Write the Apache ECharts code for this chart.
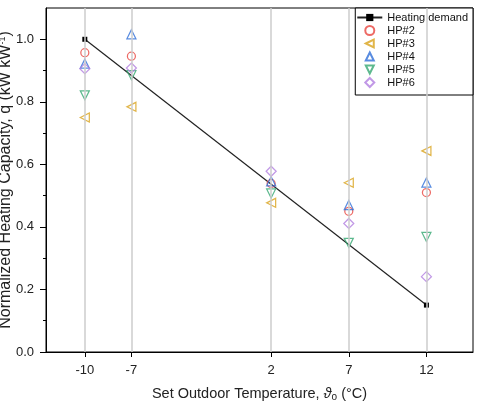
<!DOCTYPE html>
<html>
<head>
<meta charset="utf-8">
<script src="https://cdn.jsdelivr.net/npm/echarts@6/dist/echarts.min.js"></script>
<style>html,body{margin:0;padding:0;background:#fff}#c{width:479px;height:406px}</style>
</head>
<body>
<div id="c"></div>
<script>
const temps = [-10, -7, 2, 7, 12];
const demandX = [-10, 12];
const demandY = [1.0, 0.15];
const hp2 = [0.957, 0.946, 0.539, 0.450, 0.510];
const hp3 = [0.750, 0.784, 0.477, 0.541, 0.643];
const hp4 = [0.922, 1.016, 0.546, 0.470, 0.542];
const hp5 = [0.821, 0.885, 0.507, 0.349, 0.368];
const hp6 = [0.906, 0.908, 0.578, 0.411, 0.241];
const yLabels = [0, 0.2, 0.4, 0.6, 0.8, 1.0];
const yMinor = [0.1, 0.3, 0.5, 0.7, 0.9];

const font = '"Liberation Sans", Arial, sans-serif';
const pts = arr => temps.map((t, i) => [t, arr[i]]);
function hpSeries(name, data, symbol, rotate, size, color) {
  return {
    name, type: 'scatter', data: pts(data), symbol, symbolRotate: rotate, symbolSize: size,
    symbolKeepAspect: true,
    itemStyle: { color: 'rgba(255,255,255,0)', borderColor: color, borderWidth: 1.25 },
    z: 3
  };
}
// legend icons drawn in a 25x9 box so they keep their proportions
const pad = 'M0,0 M25,9 ';
const legendIcons = {
  'HP#3': 'path://' + pad + 'M8.5,4.5 L16.5,0.5 L16.5,8.5 Z',
  'HP#4': 'path://' + pad + 'M12.5,0.5 L16.5,8.5 L8.5,8.5 Z',
  'HP#5': 'path://' + pad + 'M8.5,0.5 L16.5,0.5 L12.5,8.5 Z',
  'HP#6': 'path://' + pad + 'M12.5,0 L17,4.5 L12.5,9 L8,4.5 Z'
};
const legendNames = ['Heating demand', 'HP#2', 'HP#3', 'HP#4', 'HP#5', 'HP#6'];

const chart = echarts.init(document.getElementById('c'));
chart.setOption({
  animation: false,
  grid: { left: 46, right: 6, top: 8, bottom: 54, show: true, borderColor: '#000', borderWidth: 1,
    containLabel: false, outerBoundsMode: 'none' },
  xAxis: {
    type: 'value', min: -12.5, max: 15,
    name: '{a|Set Outdoor Temperature, }{i|ϑ}{s|o}{a| (°C)}',
    nameLocation: 'middle', nameGap: 34, nameMoveOverlap: false,
    nameTextStyle: {
      rich: {
        a: { fontFamily: font, fontSize: 14.5, color: '#222' },
        i: { fontFamily: font, fontSize: 14.5, color: '#222', fontStyle: 'italic' },
        s: { fontFamily: font, fontSize: 10, color: '#222', verticalAlign: 'bottom', padding: [6, 0, 0, 0] }
      }
    },
    axisLine: { show: true, onZero: false, lineStyle: { color: '#000', width: 1 } },
    axisTick: { show: true, customValues: temps, length: 5, lineStyle: { color: '#000' } },
    axisLabel: { customValues: temps, fontFamily: font, fontSize: 13, color: '#222', margin: 12 },
    splitLine: { show: false }
  },
  yAxis: [{
    type: 'value', min: 0, max: 1.1,
    name: '{a|Normalized Heating Capacity, q (kW kW}{s|-1}{a|)}',
    nameLocation: 'middle', nameGap: 32, nameMoveOverlap: false,
    nameTextStyle: {
      rich: {
        a: { fontFamily: font, fontSize: 16, color: '#222' },
        s: { fontFamily: font, fontSize: 9, color: '#222', verticalAlign: 'top', padding: [0, 0, 6, 0] }
      }
    },
    axisLine: { show: true, onZero: false, lineStyle: { color: '#000', width: 1 } },
    axisTick: { show: true, customValues: yLabels, length: 6, lineStyle: { color: '#000' } },
    axisLabel: { customValues: yLabels, fontFamily: font, fontSize: 13, color: '#222', margin: 12,
      formatter: v => v.toFixed(1) },
    splitLine: { show: false }
  }, {
    type: 'value', min: 0, max: 1.1, position: 'left',
    axisLine: { show: false, onZero: false },
    axisTick: { show: true, customValues: yMinor, length: 3, lineStyle: { color: '#000' } },
    axisLabel: { show: false },
    splitLine: { show: false }
  }],
  legend: {
    orient: 'vertical', right: 6, top: 8,
    data: legendNames.map(n => legendIcons[n] ? { name: n, icon: legendIcons[n] } : { name: n }),
    backgroundColor: '#fff', borderColor: '#000', borderWidth: 1, borderRadius: 0,
    padding: [4, 5, 7, 1], itemGap: 2, itemWidth: 25, itemHeight: 9,
    symbolKeepAspect: true, symbolRotate: 0,
    textStyle: { fontFamily: font, fontSize: 11, color: '#111' }
  },
  series: [
    {
      name: 'grid', type: 'scatter', data: [], z: 1, silent: true,
      markLine: {
        silent: true, symbol: 'none', label: { show: false },
        lineStyle: { color: '#cdcdcd', width: 1.5, type: 'solid' },
        data: temps.map(t => ({ xAxis: t }))
      }
    },
    {
      name: 'Heating demand', type: 'line', data: demandX.map((x, i) => [x, demandY[i]]),
      symbol: 'rect', symbolSize: 5, showAllSymbol: true,
      lineStyle: { color: '#222', width: 1.2 }, itemStyle: { color: '#000' }, z: 2
    },
    hpSeries('HP#2', hp2, 'circle', 0, 8, '#e8453f'),
    hpSeries('HP#3', hp3, 'triangle', 90, 9, '#d9a21c'),
    hpSeries('HP#4', hp4, 'triangle', 0, 9, '#2f6fd8'),
    hpSeries('HP#5', hp5, 'triangle', 180, 9, '#35a872'),
    hpSeries('HP#6', hp6, 'diamond', 0, 10, '#b27ee0')
  ]
});
</script>
</body>
</html>
